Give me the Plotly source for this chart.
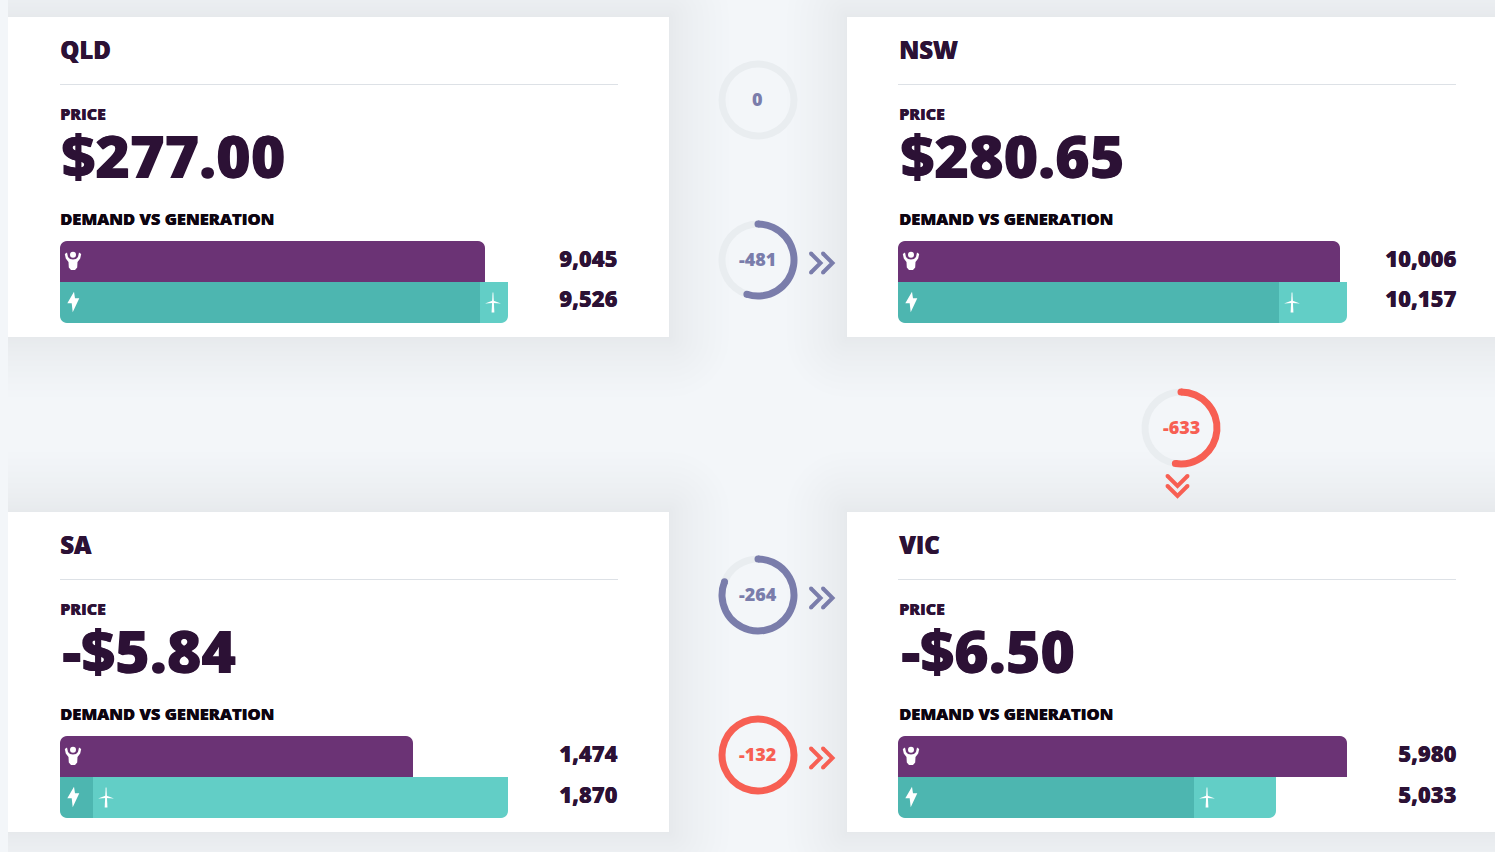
import math
import plotly.graph_objects as go

W, H = 1495, 852

regions = ["QLD", "NSW", "SA", "VIC"]
prices = [277.00, 280.65, -5.84, -6.50]
demand = [9045, 10006, 1474, 5980]
generation = [9526, 10157, 1870, 5033]
gen_other = [8930, 8619, 138, 3942]
gen_wind = [596, 1538, 1732, 1091]

flow_values = [0, -481, -633, -264, -132]
flow_fill = [0.0, 0.55, 0.525, 0.81, 1.0]
flow_kind = ["none", "blue", "red", "blue", "red"]
flow_dir = [None, "right", "down", "right", "right"]

# layout, pixels
card_pos = [(8, 17), (847, 17), (8, 512), (847, 512)]
bar_lefts = [60, 898, 60, 898]
bar_widths = [448, 449, 448, 449]
flow_pos = [(758, 100), (758, 260), (1181, 428), (758, 595), (758, 755)]
CARD_W, CARD_H = 661, 320
RING_R = 39.5
RING_T = 7

INK = "#2c1135"
PURPLE = "#6b3375"
TEAL = "#4db6b0"
TEAL_LIGHT = "#62cec6"
TRACK = "#e9edf0"
BG = "#f3f6f9"
FONT = "Open Sans"
flow_colors = {"none": "#7a7dab", "blue": "#7a7dab", "red": "#f75f53"}


def px(x):
    return x / W


def py(y):
    return 1 - y / H


fig = go.Figure()
shapes = []
notes = []


def to_paper(points):
    return [(px(x), py(y)) for x, y in points]


def poly(points, fill, layer="above"):
    path = "M" + " L".join(f"{x:.5f},{y:.5f}" for x, y in to_paper(points)) + " Z"
    shapes.append(dict(type="path", xref="paper", yref="paper", path=path, fillcolor=fill,
                       line=dict(width=0), layer=layer))


def rect(x0, y0, x1, y1, fill, layer="below"):
    shapes.append(dict(type="rect", xref="paper", yref="paper", x0=px(x0), x1=px(x1), y0=py(y0), y1=py(y1),
                       fillcolor=fill, line=dict(width=0), layer=layer))


def round_rect(x0, y0, x1, y1, r, fill):
    pts = []
    corners = [(x1 - r, y0 + r, -90), (x1 - r, y1 - r, 0), (x0 + r, y1 - r, 90), (x0 + r, y0 + r, 180)]
    for cx, cy, start in corners:
        for k in range(7):
            a = math.radians(start + 15 * k)
            pts.append((cx + r * math.cos(a), cy + r * math.sin(a)))
    poly(pts, fill, layer="below")


def dot(cx, cy, r, fill):
    shapes.append(dict(type="circle", xref="paper", yref="paper", x0=px(cx - r), x1=px(cx + r),
                       y0=py(cy + r), y1=py(cy - r), fillcolor=fill, line=dict(width=0), layer="above"))


def text(x, y, s, size, color=INK, anchor="left", weight=800, thick=0.4):
    shadow = f"{thick}px 0 0 {color}" if thick else "none"
    notes.append(dict(xref="paper", yref="paper", x=px(x), y=py(y), text=s, showarrow=False, xanchor=anchor,
                      yanchor="middle", borderpad=0, borderwidth=0,
                      font=dict(family=FONT, size=size, color=color, weight=weight, shadow=shadow)))


def corner(x, y, dx, dy, r=7):
    # white piece that rounds a bar corner
    steps = 6
    pts = [(x, y)]
    for i in range(steps + 1):
        a = math.pi / 2 * i / steps
        pts.append((x + dx * (r - r * math.sin(a)), y + dy * (r - r * math.cos(a))))
    poly(pts, "white")


def person(x, y):
    dot(x, y - 6.8, 3, "white")
    pts = [(-8.2, -7.5), (-6, -9), (-5, -4.5), (-3, -2.5), (0, -2), (3, -2.5), (5, -4.5), (6, -9), (8.2, -7.5),
           (7.2, -3), (4.5, 0.5), (4.2, 6), (2, 8.5), (-2, 8.5), (-4.2, 6), (-4.5, 0.5), (-7.2, -3)]
    poly([(x + a, y + b) for a, b in pts], "white")


def bolt(x, y):
    pts = [(0.7, -10.3), (-6, 1.3), (-1.6, 1.3), (-0.6, 10.3), (6, -3.7), (1.7, -3.7)]
    poly([(x + a, y + b) for a, b in pts], "white")


def turbine(x, y):
    poly([(x - 0.4, y - 9.5), (x + 0.4, y - 9.5), (x + 1.4, y + 10.5), (x - 1.4, y + 10.5)], "white")
    poly([(x - 8, y + 1.5), (x, y - 1.5), (x + 8, y + 1.5), (x, y + 1)], "white")


def chevron(x, y, size, color, direction):
    # two stroked arrow heads, ends rounded off with dots
    for off in (0, 12):
        if direction == "right":
            pts = [(x + off, y - size), (x + off + size, y), (x + off, y + size)]
        else:
            pts = [(x - size, y + off * 0.83), (x, y + off * 0.83 + size), (x + size, y + off * 0.83)]
        shapes.append(dict(type="path", xref="paper", yref="paper",
                           path="M" + " L".join(f"{a:.5f},{b:.5f}" for a, b in to_paper(pts)),
                           line=dict(color=color, width=4), layer="above"))
        dot(pts[0][0], pts[0][1], 2, color)
        dot(pts[2][0], pts[2][1], 2, color)


# soft shadow round the cards, outermost band first
SHADOW_STEPS = 13
for i in range(SHADOW_STEPS):
    d = 60 * ((SHADOW_STEPS - i) / SHADOW_STEPS) ** 1.5
    shade = i + 1
    fill = f"rgb({243 - shade},{246 - shade},{249 - shade})"
    for cx, cy in card_pos:
        round_rect(cx - d, cy - d, cx + CARD_W + d, cy + CARD_H + d, d, fill)
rect(0, 0, 8, H, BG)
for cx, cy in card_pos:
    rect(cx, cy, cx + CARD_W, cy + CARD_H, "white")

for i, name in enumerate(regions):
    cx, cy = card_pos[i]
    left = bar_lefts[i]
    bar_w = bar_widths[i]
    right = left + 558
    n = i + 1
    top = cy + 224
    mid = top + 41
    bottom = top + 82
    top_scale = max(demand[i], generation[i])
    xa = dict(domain=[px(left), px(left + bar_w)], range=[0, top_scale], visible=False, fixedrange=True)
    ya = dict(domain=[py(bottom), py(top)], range=[-0.5, 1.5], visible=False, fixedrange=True,
              type="category", categoryorder="array", categoryarray=["Generation", "Demand"])
    suffix = "" if n == 1 else str(n)
    fig.update_layout(**{"xaxis" + suffix: xa, "yaxis" + suffix: ya})
    ax = dict(xaxis="x" + suffix, yaxis="y" + suffix)
    fig.add_trace(go.Bar(x=[demand[i]], y=["Demand"], orientation="h", marker=dict(color=PURPLE, line=dict(width=0)),
                         name="Demand", **ax))
    fig.add_trace(go.Bar(x=[gen_other[i]], y=["Generation"], orientation="h",
                         marker=dict(color=TEAL, line=dict(width=0)), name="Other", **ax))
    fig.add_trace(go.Bar(x=[gen_wind[i]], y=["Generation"], orientation="h",
                         marker=dict(color=TEAL_LIGHT, line=dict(width=0)), name="Wind", **ax))

    scale = bar_w / top_scale
    demand_end = round(left + demand[i] * scale)
    gen_end = round(left + (gen_other[i] + gen_wind[i]) * scale)
    corner(left, top, 1, 1)
    corner(demand_end, top, -1, 1)
    corner(left, bottom, 1, -1)
    corner(gen_end, bottom, -1, -1)
    person(left + 13, top + 20.5)
    bolt(left + 13.3, mid + 20)
    turbine(left + gen_other[i] * scale + 13, mid + 20)

    price = prices[i]
    price_label = f"-${abs(price):.2f}" if price < 0 else f"${price:.2f}"
    text_left = left + (1 if i % 2 else 0)
    value_right = right - (0.5 if i % 2 else 1.5)
    text(text_left, cy + 32.5, name, 24)
    shapes.append(dict(type="line", xref="paper", yref="paper", x0=px(left), x1=px(right), y0=py(cy + 67.5),
                       y1=py(cy + 67.5), line=dict(color="#dde1e6", width=1), layer="above"))
    text(text_left, cy + 97, "PRICE", 16)
    text(text_left + (2 if price < 0 else 1), cy + 138, price_label, 59, thick=0.8)
    text(text_left, cy + 201, "DEMAND VS GENERATION", 16.5, color="#0d0410")
    text(value_right, cy + 241, f"{demand[i]:,}", 22, anchor="right")
    text(value_right, cy + 281.5, f"{generation[i]:,}", 22, anchor="right")

for i, value in enumerate(flow_values):
    x, y = flow_pos[i]
    color = flow_colors[flow_kind[i]]
    fill = flow_fill[i]
    fig.add_trace(go.Pie(values=[fill, 1 - fill], sort=False, direction="clockwise", rotation=0,
                         hole=1 - RING_T / RING_R, textinfo="none", hoverinfo="skip", showlegend=False,
                         marker=dict(colors=[color, TRACK], line=dict(width=0)),
                         domain=dict(x=[px(x - RING_R), px(x + RING_R)], y=[py(y + RING_R), py(y - RING_R)])))
    if 0 < fill < 1:
        rm = RING_R - RING_T / 2
        dot(x, y - rm, RING_T / 2, color)
        a = 2 * math.pi * fill
        dot(x + rm * math.sin(a), y - rm * math.cos(a), RING_T / 2, color)
    text(x, y - 1, f"{value}", 18, color=color, anchor="center", weight=800, thick=0)
    if flow_dir[i] == "right":
        chevron(x + 53, y + 3, 9.5, color, "right")
    elif flow_dir[i] == "down":
        chevron(x - 3.5, y + 48, 10, color, "down")

fig.update_layout(width=W, height=H, margin=dict(l=0, r=0, t=0, b=0, pad=0), autosize=False, barmode="stack",
                  bargap=0, showlegend=False, paper_bgcolor=BG, plot_bgcolor="rgba(0,0,0,0)",
                  shapes=shapes, annotations=notes, hovermode=False)

fig.write_html("out.html", config=dict(displayModeBar=False),
               post_script="document.body.style.margin='0';document.body.style.overflow='hidden';")
